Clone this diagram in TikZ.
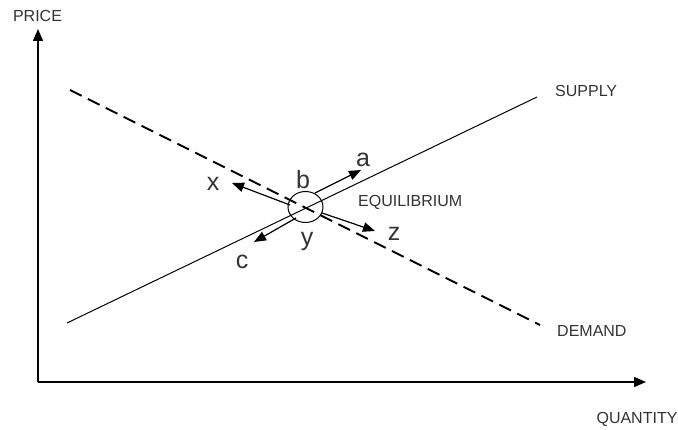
\documentclass[tikz,border=0pt]{standalone}
\usepackage{fontspec}
\setmainfont{Liberation Sans}
\usetikzlibrary{arrows.meta,shapes.geometric}
\begin{document}
\begin{tikzpicture}[x=1pt,y=-1pt,
  axis/.style={line width=1.5pt,-{Triangle[length=12pt,width=10pt]}},
  move/.style={line width=1.2pt,-{Triangle[length=12pt,width=9.5pt]}},
  small/.style={font=\fontsize{16}{18}\selectfont, text=black!80, inner sep=0pt},
  big/.style={font=\fontsize{25}{28}\selectfont, text=black!80, inner sep=0pt}]
\useasboundingbox (0,0) rectangle (678,430);
% axes
\coordinate (o) at (38,382);
\coordinate (ytop) at (38,29);
\coordinate (xend) at (646,382);
\draw[axis] (o) -- (ytop);
\draw[axis] (o) -- (xend);
\node[small] (price) at (37.5,15.5) {PRICE};
\node[small] (qty) at (637,419) {QUANTITY};
% supply and demand
\coordinate (s1) at (67,323);
\coordinate (s2) at (537,97);
\coordinate (d1) at (70,90);
\coordinate (d2) at (540,325);
\draw[line width=1pt] (s1) -- (s2);
\draw[line width=2pt, dash pattern=on 13pt off 7pt] (d1) -- (d2);
\node[small, anchor=west] (supply) at (555,91) {SUPPLY};
\node[small, anchor=west] (demand) at (557,331) {DEMAND};
% equilibrium circle
\node[draw, line width=1pt, ellipse, minimum width=35pt, minimum height=31pt, inner sep=0pt] (eq) at (305.5,207) {};
\node[small, anchor=west] (eqlabel) at (358,202.5) {EQUILIBRIUM};
% movement arrows
\coordinate (a0) at (315,193);
\coordinate (a1) at (361,170);
\coordinate (c0) at (296,218);
\coordinate (c1) at (254,242);
\coordinate (x0) at (290,205);
\coordinate (x1) at (232,183);
\coordinate (z0) at (322,213);
\coordinate (z1) at (375,231);
\draw[move] (a0) -- (a1);
\draw[move] (c0) -- (c1);
\draw[move] (x0) -- (x1);
\draw[move] (z0) -- (z1);
\node[big] (la) at (363,160) {a};
\node[big] (lb) at (303,180) {b};
\node[big] (lc) at (242,262) {c};
\node[big] (lx) at (213,184) {x};
\node[big] (ly) at (307,241) {y};
\node[big] (lz) at (394,234) {z};
\end{tikzpicture}
\end{document}
